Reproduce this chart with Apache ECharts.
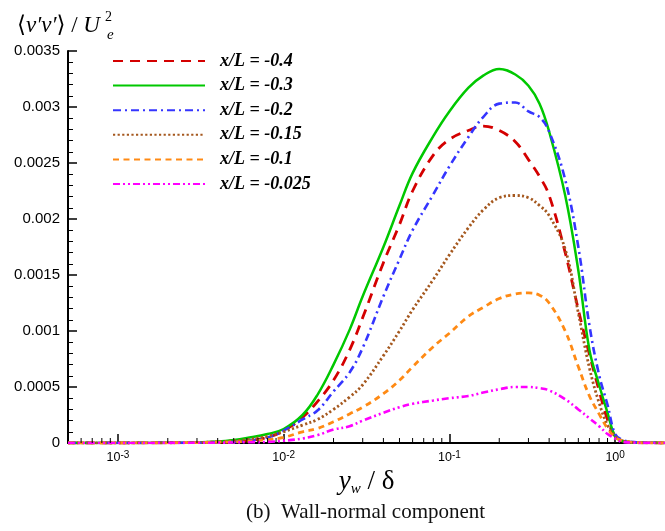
<!DOCTYPE html>
<html>
<head>
<meta charset="utf-8">
<script src="https://cdn.jsdelivr.net/npm/echarts@6/dist/echarts.min.js"></script>
<style>
  html, body { margin: 0; padding: 0; background: #fff; }
  #chart { width: 665px; height: 531px; }
</style>
</head>
<body>
<div id="chart"></div>
<script>
// Wall-normal distance y_w / delta (log spaced stations)
const yw = [0.0005, 0.001, 0.002, 0.003, 0.004, 0.005, 0.006, 0.008, 0.01, 0.013, 0.016, 0.02,
  0.025, 0.03, 0.04, 0.05, 0.06, 0.08, 0.1, 0.13, 0.16, 0.2, 0.25, 0.3, 0.35, 0.4, 0.5, 0.6,
  0.7, 0.8, 0.9, 1.0, 1.1, 1.3, 1.6, 2.0];

const stationNames = ['x/L = -0.4', 'x/L = -0.3', 'x/L = -0.2', 'x/L = -0.15', 'x/L = -0.1', 'x/L = -0.025'];

// <v'v'> / Ue^2 profiles at each streamwise station
const vvStationA = [0, 0, 0.000002, 0.000004, 0.000008, 0.000012, 0.00002, 0.00005, 0.00011, 0.00023, 0.00037, 0.00056,
  0.00083, 0.00112, 0.00161, 0.00195, 0.00225, 0.00257, 0.00271, 0.00279, 0.00283, 0.00279, 0.00269, 0.00253, 0.00238, 0.00221, 0.0017, 0.00119,
  0.00079, 0.00047, 0.00021, 0.00006, 0.00002, 0.000005, 0.000001, 0];
const vvStationB = [0, 0, 0.000002, 0.000005, 0.000013, 0.000027, 0.000045, 0.00008, 0.000125, 0.00025, 0.00043, 0.0007,
  0.00101, 0.00131, 0.00175, 0.00212, 0.00241, 0.00274, 0.00296, 0.00317, 0.00328, 0.00334, 0.00329, 0.00319, 0.00303, 0.00278, 0.00221, 0.00154,
  0.00083, 0.00052, 0.00027, 0.00006, 0.000018, 0.000005, 0.000002, 0];
const vvStationC = [0, 0, 0.000001, 0.000002, 0.000004, 0.00001, 0.00002, 0.00005, 0.00011, 0.00021, 0.00029, 0.00046,
  0.00063, 0.00085, 0.00131, 0.00164, 0.0019, 0.00222, 0.00247, 0.00273, 0.00291, 0.00303, 0.00304, 0.00296, 0.00291, 0.00278, 0.00235, 0.00175,
  0.00105, 0.00061, 0.00034, 0.00008, 0.00003, 0.000008, 0.000002, 0];
const vvStationD = [0, 0, 0.000002, 0.000005, 0.00001, 0.00002, 0.00003, 0.00006, 0.0001, 0.00016, 0.00021, 0.0003,
  0.00041, 0.00052, 0.00078, 0.001, 0.00119, 0.00146, 0.00168, 0.00192, 0.00208, 0.00219, 0.00221, 0.00219, 0.00212, 0.00203, 0.00173, 0.00116,
  0.00067, 0.00036, 0.00016, 0.00006, 0.00002, 0.000005, 0.000001, 0];
const vvStationE = [0, 0, 0.000002, 0.000004, 0.000007, 0.00001, 0.000015, 0.00003, 0.00005, 0.0001, 0.00013, 0.00019,
  0.00026, 0.00032, 0.00044, 0.00056, 0.00068, 0.00086, 0.00098, 0.00113, 0.00121, 0.00129, 0.00133, 0.00134, 0.00132, 0.00125, 0.001, 0.00068,
  0.00042, 0.00026, 0.00013, 0.00005, 0.00002, 0.000005, 0.000001, 0];
const vvStationF = [0, 0, 0.000001, 0.000002, 0.000003, 0.000005, 0.000007, 0.00001, 0.00002, 0.00004, 0.00007, 0.00012,
  0.00015, 0.0002, 0.00027, 0.00032, 0.00035, 0.00038, 0.0004, 0.00042, 0.00045, 0.00048, 0.0005, 0.0005, 0.00049, 0.00047, 0.00039, 0.0003,
  0.00022, 0.00015, 0.00008, 0.00004, 0.00001, 0.000003, 0.000001, 0];

// Minor tick positions on the logarithmic axis (2..9 x 10^k)
const minorTickValues = [0.0006, 0.0007, 0.0008, 0.0009,
  0.002, 0.003, 0.004, 0.005, 0.006, 0.007, 0.008, 0.009,
  0.02, 0.03, 0.04, 0.05, 0.06, 0.07, 0.08, 0.09,
  0.2, 0.3, 0.4, 0.5, 0.6, 0.7, 0.8, 0.9];

const profiles = [vvStationA, vvStationB, vvStationC, vvStationD, vvStationE, vvStationF];
const colors = ['#d40000', '#00c800', '#3535ff', '#a5581e', '#ff8a14', '#ff00ff'];
const dashArrays = [[10, 7], null, [8, 4, 2, 4], [2.2, 2.4], [6, 4.5], [7, 3, 2, 3, 2, 3]];
const lineWidths = [2.8, 2.5, 2.6, 2.8, 2.8, 2.6];

const SERIF = "'Liberation Serif', 'DejaVu Serif', serif";
const SANS = "'Liberation Sans', Arial, sans-serif";

const lineSeries = profiles.map((vals, i) => ({
  name: stationNames[i],
  type: 'line',
  data: yw.map((x, k) => [x, vals[k]]),
  showSymbol: false,
  symbol: 'none',
  smooth: 0.4,
  lineStyle: {
    color: colors[i],
    width: lineWidths[i],
    type: dashArrays[i] ? dashArrays[i] : 'solid'
  },
  itemStyle: { color: colors[i] },
  z: 3 + i
}));

const minorTickSeries = {
  type: 'custom',
  silent: true,
  z: 10,
  data: minorTickValues.map(v => [v, 0]),
  encode: { x: 0, y: 1 },
  renderItem: function (params, api) {
    const p = api.coord([api.value(0), 0]);
    return {
      type: 'line',
      shape: { x1: p[0], y1: p[1], x2: p[0], y2: p[1] - 5 },
      style: { stroke: '#000', lineWidth: 1 }
    };
  }
};

const chart = echarts.init(document.getElementById('chart'), null, { renderer: 'canvas' });
chart.setOption({
  animation: false,
  backgroundColor: '#fff',
  grid: { left: 68, right: -4, top: 51, bottom: 88, containLabel: false },
  legend: {
    data: stationNames,
    orient: 'vertical',
    left: 112,
    top: 52,
    padding: 0,
    itemWidth: 92,
    itemHeight: 18,
    itemGap: 6.6,
    itemStyle: { opacity: 0 },
    textStyle: {
      fontFamily: SERIF,
      fontStyle: 'italic',
      fontWeight: 'bold',
      fontSize: 18,
      color: '#000',
      padding: [0, 0, 0, 10]
    }
  },
  xAxis: {
    type: 'log',
    logBase: 10,
    min: 0.0005,
    max: 2,
    axisLine: { show: true, onZero: false, lineStyle: { color: '#000', width: 2 } },
    axisTick: { show: true, inside: true, length: 9, lineStyle: { color: '#000', width: 1.5 } },
    splitLine: { show: false },
    axisLabel: {
      showMinLabel: false,
      showMaxLabel: false,
      margin: 7,
      formatter: function (v) {
        const e = Math.round(Math.log10(v));
        if (Math.abs(Math.log10(v) - e) > 1e-6) return '';
        return '{b|10}{s|' + e + '}';
      },
      rich: {
        b: { fontFamily: SANS, fontSize: 12.5, color: '#000', verticalAlign: 'bottom', lineHeight: 14 },
        s: { fontFamily: SANS, fontSize: 10, color: '#000', verticalAlign: 'top', lineHeight: 14, padding: [0, 0, 4, 0] }
      }
    },
    name: '{i|y}{s|w}{n| / δ}',
    nameLocation: 'middle',
    nameGap: 1,
    nameTextStyle: {
      padding: [0, 0, 0, 0],
      rich: {
        i: { fontFamily: SERIF, fontStyle: 'italic', fontSize: 27, color: '#000' },
        s: { fontFamily: SERIF, fontStyle: 'italic', fontSize: 15, color: '#000', padding: [14, 0, 0, 0] },
        n: { fontFamily: SERIF, fontSize: 27, color: '#000' }
      }
    }
  },
  yAxis: {
    type: 'value',
    min: 0,
    max: 0.0035,
    interval: 0.0005,
    axisLine: { show: true, lineStyle: { color: '#000', width: 2 } },
    axisTick: { show: true, inside: true, length: 9, lineStyle: { color: '#000', width: 1.5 } },
    minorTick: { show: true, splitNumber: 5, length: 5, lineStyle: { color: '#000', width: 1 } },
    splitLine: { show: false },
    axisLabel: { fontFamily: SANS, fontSize: 15, color: '#000', margin: 8 }
  },
  graphic: [
    {
      type: 'text',
      left: 17,
      top: 14,
      style: {
        text: '{a|⟨}{i|v′v′}{a|⟩ / }{i|U}',
        rich: {
          a: { fontFamily: SERIF, fontSize: 23, fill: '#000' },
          i: { fontFamily: SERIF, fontStyle: 'italic', fontSize: 23, fill: '#000' }
        }
      }
    },
    {
      type: 'text',
      left: 105,
      top: 10,
      style: { text: '2', fontFamily: SERIF, fontSize: 14, fill: '#000' }
    },
    {
      type: 'text',
      left: 107,
      top: 28,
      style: { text: 'e', fontFamily: SERIF, fontStyle: 'italic', fontSize: 15, fill: '#000' }
    },
    {
      type: 'text',
      left: 246,
      top: 502,
      style: { text: '(b)  Wall-normal component', fontFamily: SERIF, fontSize: 21, fill: '#111' }
    }
  ],
  series: lineSeries.concat([minorTickSeries])
});
</script>
</body>
</html>
